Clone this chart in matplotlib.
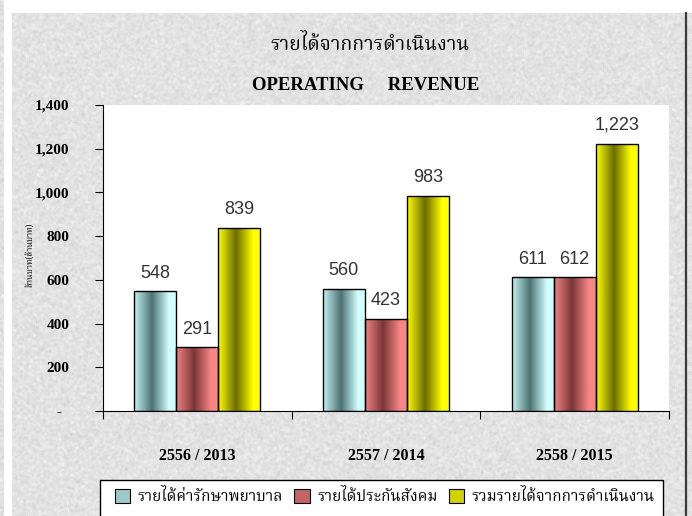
import numpy as np
import matplotlib
matplotlib.use("Agg")
import matplotlib.pyplot as plt
from matplotlib import font_manager
from matplotlib.colors import LinearSegmentedColormap
from matplotlib.patches import Patch, Rectangle
from matplotlib.lines import Line2D

# data
years = ["2556 / 2013", "2557 / 2014", "2558 / 2015"]
medical = [548, 560, 611]
social_security = [291, 423, 612]
total = [839, 983, 1223]
series_names = ["รายได้ค่ารักษาพยาบาล", "รายได้ประกันสังคม", "รวมรายได้จากการดำเนินงาน"]
y_ticks = [0, 200, 400, 600, 800, 1000, 1200, 1400]

# pick a font that has Thai glyphs
names = set(f.name for f in font_manager.fontManager.ttflist)
thai = "DejaVu Sans"
for cand in ["Noto Serif Thai", "Taviraj", "Sarabun", "Noto Sans Thai", "Athiti"]:
    if cand in names:
        thai = cand
        break
thai_fam = [thai, "DejaVu Sans"]
serif = "Liberation Serif"
sans = "Liberation Sans"

W, H = 692, 516
fig = plt.figure(figsize=(W / 100, H / 100), dpi=100, facecolor="white")

# granite-like backdrop (decoration only)
rng = np.random.default_rng(7)
def texture(h, w):
    n = rng.normal(size=(h + 4, w + 4))
    k = np.ones(3) / 3
    n = np.apply_along_axis(lambda r: np.convolve(r, k, mode="same"), 1, n)
    n = np.apply_along_axis(lambda c: np.convolve(c, k, mode="same"), 0, n)
    n = n[2:-2, 2:-2]
    return np.clip(0.885 + 0.05 * n, 0, 1)

bg = fig.add_axes([12 / W, 0, (685 - 12) / W, (H - 13) / H], zorder=-2)
bg.imshow(texture(H - 13, 685 - 12), cmap="gray", vmin=0, vmax=1, aspect="auto",
          interpolation="nearest")
bg.axis("off")
strip = fig.add_axes([0, 0, 4 / W, 1], zorder=-2)
strip.imshow(texture(H, 4), cmap="gray", vmin=0, vmax=1, aspect="auto")
strip.axis("off")
right = fig.add_axes([687 / W, 0, 5 / W, (H - 13) / H], zorder=-2)
right.imshow(texture(H - 13, 5), cmap="gray", vmin=0, vmax=1, aspect="auto")
right.axis("off")
fig.add_artist(Line2D([685.5 / W, 685.5 / W], [0, (H - 13) / H], color="#3a3a3a", lw=1.6))

ax = fig.add_axes([103 / W, 1 - 411 / H, (669 - 103) / W, (411 - 105) / H])
ax.set_facecolor("white")

x = np.arange(len(years))
bw = 0.223
palettes = [
    ["#c4f2f2", "#4e7272", "#d2ffff", "#d2ffff"],
    ["#f28484", "#7a3636", "#f88686", "#f88686"],
    ["#ffff00", "#6c6c00", "#ffff00", "#ffff00"],
]
stops = [0.0, 0.42, 0.82, 1.0]
for i, vals in enumerate([medical, social_security, total]):
    bars = ax.bar(x + (i - 1) * bw, vals, bw, facecolor="none", edgecolor="black",
                  linewidth=1.0, zorder=3)
    cmap = LinearSegmentedColormap.from_list("g%d" % i, list(zip(stops, palettes[i])))
    grad = np.linspace(0, 1, 200).reshape(1, -1)
    for b, v in zip(bars, vals):
        im = ax.imshow(grad, cmap=cmap, aspect="auto", zorder=2,
                       extent=(b.get_x(), b.get_x() + b.get_width(), 0, b.get_height()))
        im.set_clip_path(b)
        ax.annotate("{:,}".format(v), (b.get_x() + b.get_width() / 2, v),
                    xytext=(0, 7), textcoords="offset points", ha="center", va="bottom",
                    fontsize=13, family=sans, color="#333333")

ax.set_xlim(-0.5, 2.5)
ax.set_ylim(0, 1400)
ax.spines["top"].set_visible(False)
ax.spines["right"].set_visible(False)

ax.set_yticks(y_ticks)
ax.set_yticklabels(["{:,}".format(t) if t else "-  " for t in y_ticks],
                   family=serif, fontweight="bold", fontsize=11)
ax.tick_params(axis="y", direction="out", length=6, pad=18)

ax.set_xticks([-0.5, 0.5, 1.5, 2.5])
ax.set_xticklabels([])
ax.tick_params(axis="x", which="major", direction="out", length=6)
ax.set_xticks(x, minor=True)
ax.set_xticklabels(years, minor=True, family=serif, fontweight="bold", fontsize=11.5)
ax.tick_params(axis="x", which="minor", length=0, pad=27)

fig.text(0.535, 1 - 45 / H, "รายได้จากการดำเนินงาน", ha="center", va="center",
         family=thai_fam, fontsize=14)
fig.text(0.528, 1 - 85 / H, "OPERATING     REVENUE", ha="center", va="center",
         family=serif, fontweight="bold", fontsize=13.5)
fig.text(30 / W, 1 - 255 / H, "ล้านบาท(ล้านบาท)", rotation=90, ha="center", va="center",
         family=thai_fam, fontsize=6, fontweight="bold")

# legend box runs off the bottom edge like the reference
fig.add_artist(Rectangle((100 / W, -0.05), 563 / W, (H - 480) / H + 0.05,
                         transform=fig.transFigure, facecolor="white",
                         edgecolor="black", linewidth=1.0, zorder=1))
handles = [Patch(facecolor=c, edgecolor="black", linewidth=0.8)
           for c in ["#9ccaca", "#c46464", "#d2d200"]]
leg = fig.legend(handles, series_names, loc="center left", ncol=3, mode="expand",
                 bbox_to_anchor=(115 / W, 1 - 497 / H, 540 / W, 0.0),
                 prop={"family": thai_fam, "size": 11}, frameon=False,
                 handlelength=1.0, handleheight=1.0,
                 handletextpad=0.5, columnspacing=1.0, borderaxespad=0, borderpad=0)
leg.set_zorder(2)

fig.savefig("out.png", dpi=100, facecolor=fig.get_facecolor())
